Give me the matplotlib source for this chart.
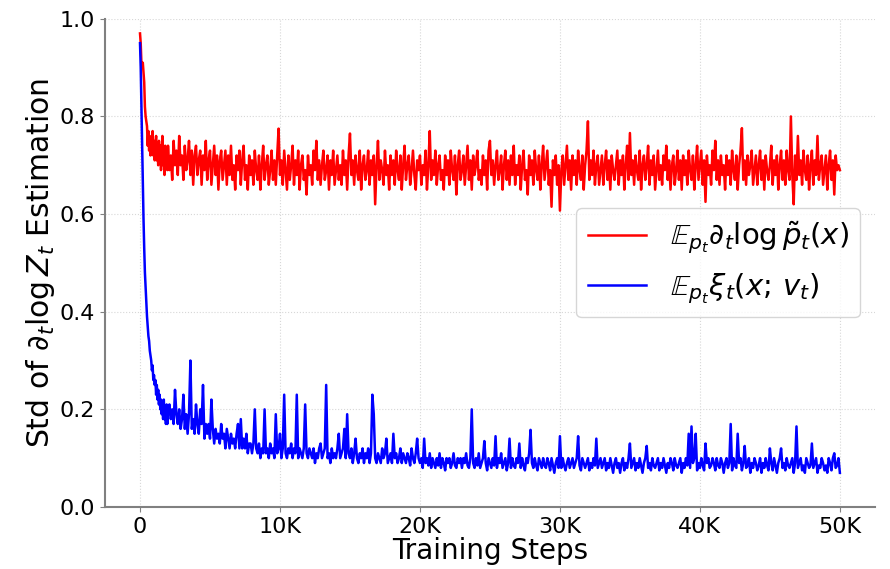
import numpy as np
import matplotlib
matplotlib.use('Agg')
import matplotlib.pyplot as plt
from matplotlib.ticker import FuncFormatter

# first 2K steps, every 50 steps
early_steps = np.arange(0, 2000, 50)
early_red = [0.97, 0.95, 0.91, 0.90, 0.91, 0.89, 0.87, 0.82, 0.80, 0.79,
             0.78, 0.74, 0.77, 0.73, 0.76, 0.72, 0.75, 0.73, 0.77, 0.72,
             0.75, 0.71, 0.74, 0.76, 0.71, 0.73, 0.70, 0.75, 0.71, 0.74,
             0.69, 0.73, 0.76, 0.70, 0.72, 0.68, 0.74, 0.70, 0.73, 0.69]
early_blue = [0.95, 0.90, 0.82, 0.74, 0.65, 0.59, 0.53, 0.48, 0.45, 0.42,
              0.39, 0.37, 0.35, 0.34, 0.32, 0.31, 0.30, 0.28, 0.29, 0.26,
              0.27, 0.25, 0.26, 0.23, 0.25, 0.22, 0.24, 0.21, 0.23, 0.20,
              0.22, 0.19, 0.21, 0.18, 0.22, 0.18, 0.20, 0.17, 0.21, 0.17]

# 2K .. 50K, every 100 steps (one row = 1K steps)
late_steps = np.arange(2000, 50001, 100)
late_red = [
    0.74, 0.69, 0.72, 0.67, 0.75, 0.70, 0.73, 0.68, 0.76, 0.70,
    0.72, 0.67, 0.74, 0.69, 0.71, 0.75, 0.68, 0.73, 0.66, 0.72,
    0.74, 0.68, 0.71, 0.73, 0.66, 0.72, 0.69, 0.75, 0.67, 0.71,
    0.73, 0.66, 0.70, 0.74, 0.68, 0.72, 0.65, 0.71, 0.73, 0.67,
    0.70, 0.73, 0.66, 0.72, 0.68, 0.74, 0.67, 0.70, 0.65, 0.72,
    0.69, 0.73, 0.66, 0.71, 0.74, 0.67, 0.70, 0.65, 0.72, 0.68,
    0.71, 0.66, 0.73, 0.69, 0.67, 0.72, 0.65, 0.70, 0.74, 0.67,
    0.70, 0.72, 0.66, 0.69, 0.73, 0.67, 0.71, 0.66, 0.72, 0.775,
    0.68, 0.71, 0.66, 0.73, 0.69, 0.65, 0.72, 0.67, 0.70, 0.74,
    0.66, 0.71, 0.68, 0.73, 0.65, 0.70, 0.72, 0.67, 0.69, 0.64,
    0.72, 0.68, 0.70, 0.66, 0.73, 0.69, 0.75, 0.67, 0.71, 0.66,
    0.70, 0.73, 0.67, 0.69, 0.72, 0.65, 0.71, 0.68, 0.73, 0.66,
    0.69, 0.72, 0.67, 0.70, 0.66, 0.73, 0.68, 0.71, 0.65, 0.72,
    0.765, 0.68, 0.71, 0.66, 0.72, 0.69, 0.67, 0.73, 0.65, 0.70,
    0.72, 0.67, 0.69, 0.73, 0.66, 0.71, 0.68, 0.72, 0.62, 0.70,
    0.75, 0.67, 0.71, 0.69, 0.66, 0.73, 0.68, 0.70, 0.65, 0.72,
    0.68, 0.71, 0.66, 0.73, 0.69, 0.67, 0.72, 0.65, 0.70, 0.74,
    0.67, 0.70, 0.72, 0.66, 0.69, 0.73, 0.68, 0.65, 0.71, 0.69,
    0.72, 0.66, 0.70, 0.68, 0.73, 0.65, 0.70, 0.77, 0.67, 0.71,
    0.68, 0.73, 0.66, 0.70, 0.72, 0.67, 0.69, 0.65, 0.72, 0.68,
    0.71, 0.66, 0.73, 0.69, 0.67, 0.72, 0.64, 0.70, 0.73, 0.67,
    0.69, 0.72, 0.66, 0.70, 0.74, 0.67, 0.71, 0.65, 0.72, 0.68,
    0.70, 0.73, 0.67, 0.69, 0.66, 0.72, 0.68, 0.71, 0.65, 0.73,
    0.75, 0.68, 0.71, 0.66, 0.70, 0.73, 0.67, 0.69, 0.72, 0.65,
    0.70, 0.73, 0.67, 0.71, 0.66, 0.72, 0.68, 0.74, 0.66, 0.70,
    0.68, 0.72, 0.65, 0.70, 0.73, 0.67, 0.69, 0.64, 0.72, 0.68,
    0.71, 0.66, 0.73, 0.69, 0.67, 0.72, 0.65, 0.70, 0.74, 0.67,
    0.70, 0.73, 0.66, 0.69, 0.615, 0.71, 0.68, 0.72, 0.66, 0.70,
    0.607, 0.69, 0.72, 0.66, 0.70, 0.74, 0.67, 0.71, 0.65, 0.72,
    0.68, 0.71, 0.66, 0.73, 0.69, 0.67, 0.72, 0.65, 0.70, 0.73,
    0.79, 0.67, 0.71, 0.68, 0.73, 0.66, 0.70, 0.72, 0.66, 0.69,
    0.72, 0.66, 0.70, 0.73, 0.67, 0.71, 0.65, 0.72, 0.69, 0.67,
    0.70, 0.73, 0.66, 0.71, 0.68, 0.72, 0.65, 0.70, 0.74, 0.67,
    0.766, 0.68, 0.71, 0.66, 0.72, 0.69, 0.67, 0.73, 0.65, 0.70,
    0.72, 0.67, 0.70, 0.74, 0.66, 0.71, 0.68, 0.72, 0.65, 0.69,
    0.73, 0.67, 0.70, 0.66, 0.72, 0.69, 0.74, 0.67, 0.71, 0.65,
    0.70, 0.72, 0.66, 0.69, 0.73, 0.67, 0.71, 0.65, 0.72, 0.68,
    0.71, 0.66, 0.73, 0.69, 0.67, 0.72, 0.65, 0.70, 0.74, 0.67,
    0.70, 0.73, 0.66, 0.71, 0.625, 0.72, 0.68, 0.70, 0.66, 0.73,
    0.69, 0.75, 0.67, 0.71, 0.66, 0.72, 0.68, 0.70, 0.65, 0.72,
    0.68, 0.71, 0.66, 0.73, 0.69, 0.67, 0.72, 0.65, 0.70, 0.73,
    0.776, 0.67, 0.71, 0.66, 0.72, 0.68, 0.70, 0.73, 0.66, 0.69,
    0.72, 0.66, 0.70, 0.73, 0.67, 0.71, 0.65, 0.72, 0.69, 0.67,
    0.70, 0.74, 0.66, 0.71, 0.68, 0.72, 0.65, 0.70, 0.73, 0.67,
    0.71, 0.66, 0.73, 0.69, 0.67, 0.80, 0.68, 0.62, 0.72, 0.67,
    0.76, 0.68, 0.71, 0.66, 0.73, 0.69, 0.67, 0.72, 0.65, 0.70,
    0.73, 0.66, 0.71, 0.68, 0.76, 0.67, 0.70, 0.72, 0.66, 0.69,
    0.72, 0.65, 0.70, 0.73, 0.67, 0.71, 0.64, 0.72, 0.69, 0.70,
    0.69]
late_blue = [
    0.19, 0.21, 0.18, 0.20, 0.17, 0.24, 0.19, 0.17, 0.20, 0.16,
    0.18, 0.23, 0.16, 0.19, 0.15, 0.19, 0.30, 0.16, 0.18, 0.15,
    0.21, 0.17, 0.15, 0.20, 0.17, 0.25, 0.14, 0.17, 0.15, 0.17,
    0.14, 0.22, 0.16, 0.13, 0.16, 0.14, 0.15, 0.13, 0.17, 0.14,
    0.15, 0.12, 0.16, 0.14, 0.12, 0.15, 0.13, 0.14, 0.12, 0.15,
    0.17, 0.12, 0.18, 0.12, 0.14, 0.12, 0.15, 0.11, 0.13, 0.13,
    0.11, 0.13, 0.20, 0.12, 0.11, 0.13, 0.10, 0.12, 0.11, 0.20,
    0.11, 0.12, 0.10, 0.13, 0.11, 0.12, 0.10, 0.19, 0.11, 0.12,
    0.15, 0.10, 0.12, 0.23, 0.11, 0.10, 0.12, 0.11, 0.13, 0.10,
    0.12, 0.11, 0.23, 0.10, 0.12, 0.11, 0.10, 0.12, 0.21, 0.11,
    0.10, 0.12, 0.11, 0.10, 0.12, 0.09, 0.11, 0.10, 0.12, 0.13,
    0.10, 0.11, 0.12, 0.25, 0.10, 0.11, 0.09, 0.12, 0.10, 0.11,
    0.10, 0.12, 0.15, 0.10, 0.11, 0.12, 0.16, 0.10, 0.19, 0.11,
    0.10, 0.12, 0.09, 0.11, 0.14, 0.10, 0.09, 0.11, 0.10, 0.12,
    0.09, 0.11, 0.10, 0.12, 0.09, 0.11, 0.23, 0.19, 0.10, 0.09,
    0.11, 0.10, 0.09, 0.12, 0.10, 0.11, 0.14, 0.09, 0.10, 0.11,
    0.09, 0.15, 0.10, 0.11, 0.09, 0.10, 0.12, 0.09, 0.11, 0.10,
    0.09, 0.11, 0.10, 0.085, 0.12, 0.10, 0.09, 0.11, 0.14, 0.10,
    0.09, 0.10, 0.08, 0.14, 0.09, 0.10, 0.085, 0.11, 0.08, 0.10,
    0.09, 0.08, 0.10, 0.085, 0.11, 0.08, 0.10, 0.09, 0.075, 0.10,
    0.09, 0.10, 0.08, 0.09, 0.11, 0.085, 0.08, 0.10, 0.09, 0.10,
    0.08, 0.10, 0.09, 0.11, 0.085, 0.08, 0.10, 0.20, 0.09, 0.08,
    0.10, 0.085, 0.11, 0.08, 0.09, 0.10, 0.135, 0.09, 0.075, 0.10,
    0.09, 0.08, 0.10, 0.085, 0.145, 0.08, 0.10, 0.09, 0.11, 0.08,
    0.09, 0.10, 0.075, 0.09, 0.14, 0.08, 0.10, 0.085, 0.08, 0.10,
    0.09, 0.13, 0.08, 0.10, 0.085, 0.075, 0.10, 0.09, 0.11, 0.158,
    0.09, 0.08, 0.10, 0.085, 0.075, 0.10, 0.09, 0.08, 0.10, 0.085,
    0.08, 0.10, 0.09, 0.075, 0.10, 0.085, 0.07, 0.09, 0.10, 0.08,
    0.145, 0.08, 0.10, 0.085, 0.075, 0.09, 0.10, 0.08, 0.09, 0.10,
    0.08, 0.09, 0.10, 0.145, 0.085, 0.075, 0.10, 0.09, 0.08, 0.09,
    0.10, 0.075, 0.09, 0.08, 0.10, 0.085, 0.14, 0.08, 0.09, 0.10,
    0.08, 0.09, 0.10, 0.075, 0.09, 0.08, 0.10, 0.085, 0.07, 0.09,
    0.10, 0.08, 0.09, 0.07, 0.09, 0.10, 0.075, 0.09, 0.08, 0.10,
    0.13, 0.08, 0.09, 0.10, 0.075, 0.09, 0.08, 0.10, 0.085, 0.07,
    0.09, 0.10, 0.125, 0.08, 0.09, 0.075, 0.10, 0.085, 0.08, 0.09,
    0.10, 0.075, 0.09, 0.08, 0.10, 0.085, 0.07, 0.09, 0.08, 0.10,
    0.09, 0.075, 0.10, 0.085, 0.08, 0.09, 0.10, 0.07, 0.09, 0.08,
    0.10, 0.085, 0.15, 0.08, 0.165, 0.09, 0.10, 0.15, 0.075, 0.09,
    0.08, 0.10, 0.085, 0.075, 0.13, 0.09, 0.10, 0.08, 0.085, 0.10,
    0.09, 0.075, 0.10, 0.085, 0.08, 0.10, 0.09, 0.07, 0.09, 0.10,
    0.08, 0.09, 0.17, 0.075, 0.10, 0.085, 0.08, 0.15, 0.09, 0.10,
    0.075, 0.09, 0.125, 0.08, 0.085, 0.10, 0.07, 0.09, 0.08, 0.10,
    0.09, 0.075, 0.085, 0.10, 0.07, 0.09, 0.08, 0.10, 0.085, 0.075,
    0.12, 0.09, 0.075, 0.10, 0.085, 0.07, 0.09, 0.10, 0.12, 0.08,
    0.09, 0.075, 0.10, 0.085, 0.08, 0.09, 0.10, 0.07, 0.09, 0.165,
    0.08, 0.09, 0.10, 0.075, 0.085, 0.07, 0.10, 0.09, 0.08, 0.085,
    0.13, 0.08, 0.09, 0.10, 0.07, 0.085, 0.08, 0.10, 0.09, 0.075,
    0.085, 0.07, 0.10, 0.09, 0.075, 0.10, 0.11, 0.08, 0.085, 0.10,
    0.07]

steps = np.concatenate([early_steps, late_steps])
red = np.concatenate([early_red, late_red])
blue = np.concatenate([early_blue, late_blue])

fig = plt.figure(figsize=(8.9, 5.69), dpi=100)
ax = fig.add_axes([0.118, 0.109, 0.865, 0.858])

ax.plot(steps, red, color='red', lw=1.8,
        label=r'$\mathbb{E}_{p_t}\partial_t \log \tilde{p}_t(x)$')
ax.plot(steps, blue, color='blue', lw=1.8,
        label=r'$\mathbb{E}_{p_t}\xi_t(x;\, v_t)$')

ax.set_ylim(0, 1.0)
ax.set_xlim(-2500, 52500)
ax.set_xticks([0, 10000, 20000, 30000, 40000, 50000])
ax.xaxis.set_major_formatter(FuncFormatter(lambda v, p: '0' if v == 0 else '%dK' % (v / 1000)))
ax.tick_params(labelsize=16, color='gray')
ax.set_xlabel('Training Steps', fontsize=20, labelpad=0)
ax.set_ylabel(r'Std of $\partial_t \log Z_t$ Estimation', fontsize=21.5, labelpad=2)

ax.grid(True, linestyle=':', color='lightgray', alpha=0.9)
ax.spines['top'].set_visible(False)
ax.spines['right'].set_visible(False)
ax.spines['left'].set_color('gray')
ax.spines['bottom'].set_color('gray')
ax.spines['left'].set_linewidth(1.5)
ax.spines['bottom'].set_linewidth(1.5)

ax.legend(loc='center right', fontsize=21)

fig.savefig('out.png', dpi=100)
